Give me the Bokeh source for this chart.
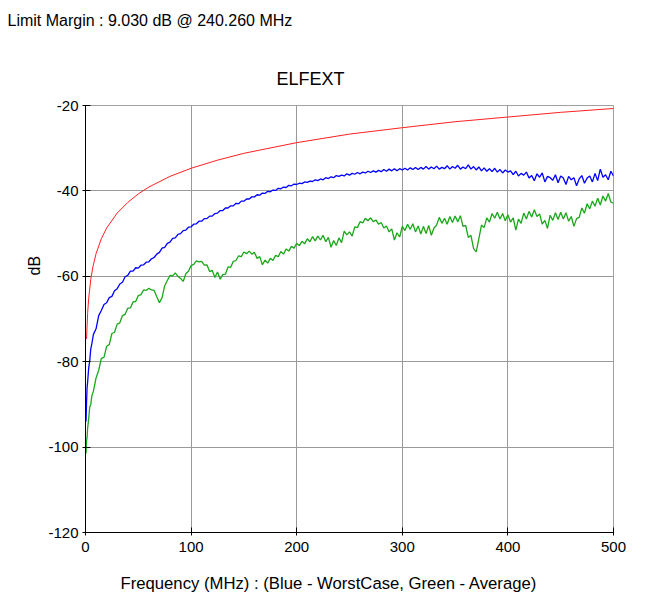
from bokeh.plotting import figure
from bokeh.models import Range1d, FixedTicker, Title
from bokeh.embed import file_html
from bokeh.resources import INLINE

# ---------------- data ----------------
freq_early = [0.5, 1, 1.5, 2, 3, 4, 5, 6, 7.5]
freq = freq_early + [10 + 2.5 * i for i in range(197)]   # sample grid 10..500 MHz

limit_freq = [1, 2, 3, 5, 7, 10, 15, 20, 30, 40, 50, 60, 80, 100, 125, 150,
              200, 250, 300, 350, 400, 450, 500]
limit_db = [-74.7, -68.7, -65.2, -60.7, -57.8, -54.7, -51.2, -48.7, -45.2, -42.7,
            -40.7, -39.1, -36.6, -34.7, -32.8, -31.2, -28.7, -26.7, -25.2, -23.8,
            -22.7, -21.6, -20.7]

worst_db = [
    -94.0, -89.5, -86.0, -84.8, -81.5, -79.8, -77.0, -75.8, -73.6,
    -72.3, -69.2, -68.0, -66.6, -66.2, -65.0, -64.7, -63.4, -62.9, -61.8,
    -61.4, -60.1, -59.8, -58.8, -58.8, -58.0, -58.1, -57.4, -57.3, -56.7,
    -56.6, -55.9, -55.6, -54.8, -54.4, -53.4, -53.2, -52.3, -52.0, -51.1,
    -51.0, -50.2, -50.0, -49.3, -49.2, -48.5, -48.4, -47.8, -47.7, -47.1,
    -47.1, -46.5, -46.5, -45.9, -45.9, -45.3, -45.2, -44.6, -44.6, -44.0,
    -44.0, -43.5, -43.5, -42.9, -43.0, -42.4, -42.4, -41.9, -41.9, -41.4,
    -41.4, -40.9, -41.0, -40.5, -40.6, -40.1, -40.2, -39.8, -39.9, -39.4,
    -39.5, -39.1, -39.2, -38.7, -38.8, -38.4, -38.5, -38.2, -38.3, -37.9,
    -38.0, -37.7, -37.8, -37.4, -37.6, -37.2, -37.4, -36.9, -37.1, -36.7,
    -36.9, -36.4, -36.6, -36.3, -36.5, -36.0, -36.3, -35.9, -36.1, -35.7,
    -36.0, -35.6, -35.8, -35.4, -35.7, -35.3, -35.6, -35.2, -35.5, -35.0,
    -35.4, -34.9, -35.3, -34.8, -35.3, -34.8, -35.1, -34.7, -35.1, -34.6,
    -35.0, -34.5, -35.0, -34.5, -34.9, -34.3, -34.9, -34.4, -34.8, -34.2,
    -34.9, -34.5, -34.8, -34.1, -34.9, -34.3, -34.7, -34.0, -34.9, -34.4,
    -34.8, -33.9, -34.9, -34.3, -35.1, -34.4, -35.3, -34.6, -35.4, -34.8,
    -35.5, -34.7, -35.6, -35.0, -35.8, -35.1, -35.6, -35.3, -36.2, -35.4,
    -36.5, -35.9, -36.3, -35.6, -37.0, -36.4, -37.6, -36.0, -36.8, -35.8,
    -37.9, -36.6, -36.9, -37.5, -36.2, -38.1, -36.5, -37.0, -38.5, -36.6,
    -37.4, -36.9, -38.8, -37.2, -36.4, -38.2, -37.0, -36.5, -37.9, -35.9,
    -37.6, -34.9, -36.8, -36.2, -37.4, -35.4, -36.5,
]

average_db = [
    -101.5, -98.5, -97.8, -95.6, -93.4, -90.6, -90.0, -88.0, -86.9,
    -83.8, -82.0, -79.2, -79.0, -76.4, -76.0, -73.4, -73.1, -71.2, -70.9,
    -69.2, -68.9, -67.5, -67.4, -66.0, -65.9, -64.5, -64.3, -63.2, -63.3,
    -62.8, -63.2, -63.3, -64.8, -66.2, -65.0, -62.2, -61.0, -59.8, -59.9,
    -59.2, -60.0, -60.5, -61.2, -59.4, -58.8, -57.5, -57.2, -56.4, -56.6,
    -56.5, -57.4, -57.3, -58.9, -58.6, -60.3, -59.0, -60.7, -59.6, -59.5,
    -57.8, -57.9, -56.5, -56.3, -55.2, -55.4, -54.3, -54.7, -54.1, -54.8,
    -54.4, -55.8, -55.4, -57.3, -56.2, -56.9, -55.8, -56.3, -55.1, -55.4,
    -54.2, -54.8, -53.6, -54.1, -53.0, -53.4, -52.3, -52.8, -51.8, -52.4,
    -51.2, -51.9, -50.7, -51.7, -50.6, -51.5, -50.4, -51.9, -50.9, -53.2,
    -51.6, -52.8, -51.0, -52.1, -49.4, -50.3, -49.6, -50.6, -48.4, -48.6,
    -47.2, -47.5, -46.4, -47.0, -46.3, -47.2, -46.8, -47.8, -47.4, -48.7,
    -48.2, -49.6, -48.9, -51.5, -49.8, -50.8, -48.3, -49.3, -47.8, -49.0,
    -47.7, -49.6, -48.2, -50.1, -48.3, -50.0, -48.1, -50.4, -48.7, -48.0,
    -46.2, -47.6, -46.4, -47.8, -46.0, -47.4, -45.9, -47.2, -45.8, -48.3,
    -48.1, -50.9, -50.4, -53.5, -54.3, -51.2, -48.0, -48.6, -46.3, -47.3,
    -45.3, -46.4, -45.0, -46.6, -45.3, -47.0, -45.6, -47.3, -46.3, -49.2,
    -46.6, -47.6, -45.2, -46.6, -44.8, -46.1, -44.4, -46.0, -45.4, -47.8,
    -46.9, -48.8, -45.7, -46.9, -45.1, -46.7, -45.0, -46.6, -45.1, -47.1,
    -46.0, -48.3, -46.5, -46.2, -44.0, -45.2, -43.0, -44.2, -42.4, -43.6,
    -41.7, -43.3, -41.2, -42.4, -40.6, -42.6, -42.9,
]

x_ticks = [0, 100, 200, 300, 400, 500]
x_tick_labels = ["0", "100", "200", "300", "400", "500"]
y_ticks = [-120, -100, -80, -60, -40, -20]
y_tick_labels = ["-120", "-100", "-80", "-60", "-40", "-20"]

title_text = "ELFEXT"
margin_text = "Limit Margin : 9.030 dB @ 240.260 MHz"
x_label = "Frequency (MHz) : (Blue - WorstCase, Green - Average)"
y_label = "dB"

assert len(worst_db) == len(freq) and len(average_db) == len(freq)

# ---------------- figure ----------------
FONT = "Liberation Sans"

p = figure(width=667, height=612, output_backend="svg", toolbar_location=None,
           x_range=Range1d(0, 500), y_range=Range1d(-120, -20),
           min_border_left=85, min_border_right=54,
           min_border_top=105, min_border_bottom=80)

p.background_fill_color = "white"
p.border_fill_color = "white"
p.outline_line_color = "#a0a0a0"
p.outline_line_width = 1

p.grid.grid_line_color = "#9a9a9a"
p.grid.grid_line_width = 1

for ax, ticks, labels in ((p.xaxis, x_ticks, x_tick_labels), (p.yaxis, y_ticks, y_tick_labels)):
    ax.ticker = FixedTicker(ticks=ticks)
    ax.major_label_overrides = {t: s for t, s in zip(ticks, labels)}
    ax.axis_line_color = "black"
    ax.axis_line_width = 1
    ax.major_tick_line_color = "black"
    ax.major_tick_in = 5
    ax.major_tick_out = 3
    ax.minor_tick_line_color = None
    ax.major_label_text_font = FONT
    ax.major_label_text_font_size = "15px"
    ax.major_label_text_color = "black"

p.xaxis.major_label_standoff = 6
p.yaxis.major_label_standoff = 4

p.line(limit_freq, limit_db, line_color="#ff2020", line_width=1)
p.line(freq, average_db, line_color="#18a818", line_width=1.3)
p.line(freq, worst_db, line_color="#0000ff", line_width=1.3)


def make_title(text, size, align, offset, standoff):
    return Title(text=text, align=align, offset=offset, standoff=standoff,
                 text_font=FONT, text_font_size=size, text_font_style="normal",
                 text_color="black")


# stacked from the plot frame outwards
p.add_layout(make_title(title_text, "18px", "left", 191, 33), "above")
p.add_layout(make_title(" ", "16px", "left", 0, 3.3), "above")          # spacer
p.add_layout(make_title(margin_text, "16px", "left", -78, 0), "above")
p.add_layout(make_title(y_label, "16px", "left", 257, 6), "left")
p.add_layout(make_title(x_label, "16.7px", "left", 35, 35), "below")

open("out.html", "w").write(file_html(p, INLINE))
